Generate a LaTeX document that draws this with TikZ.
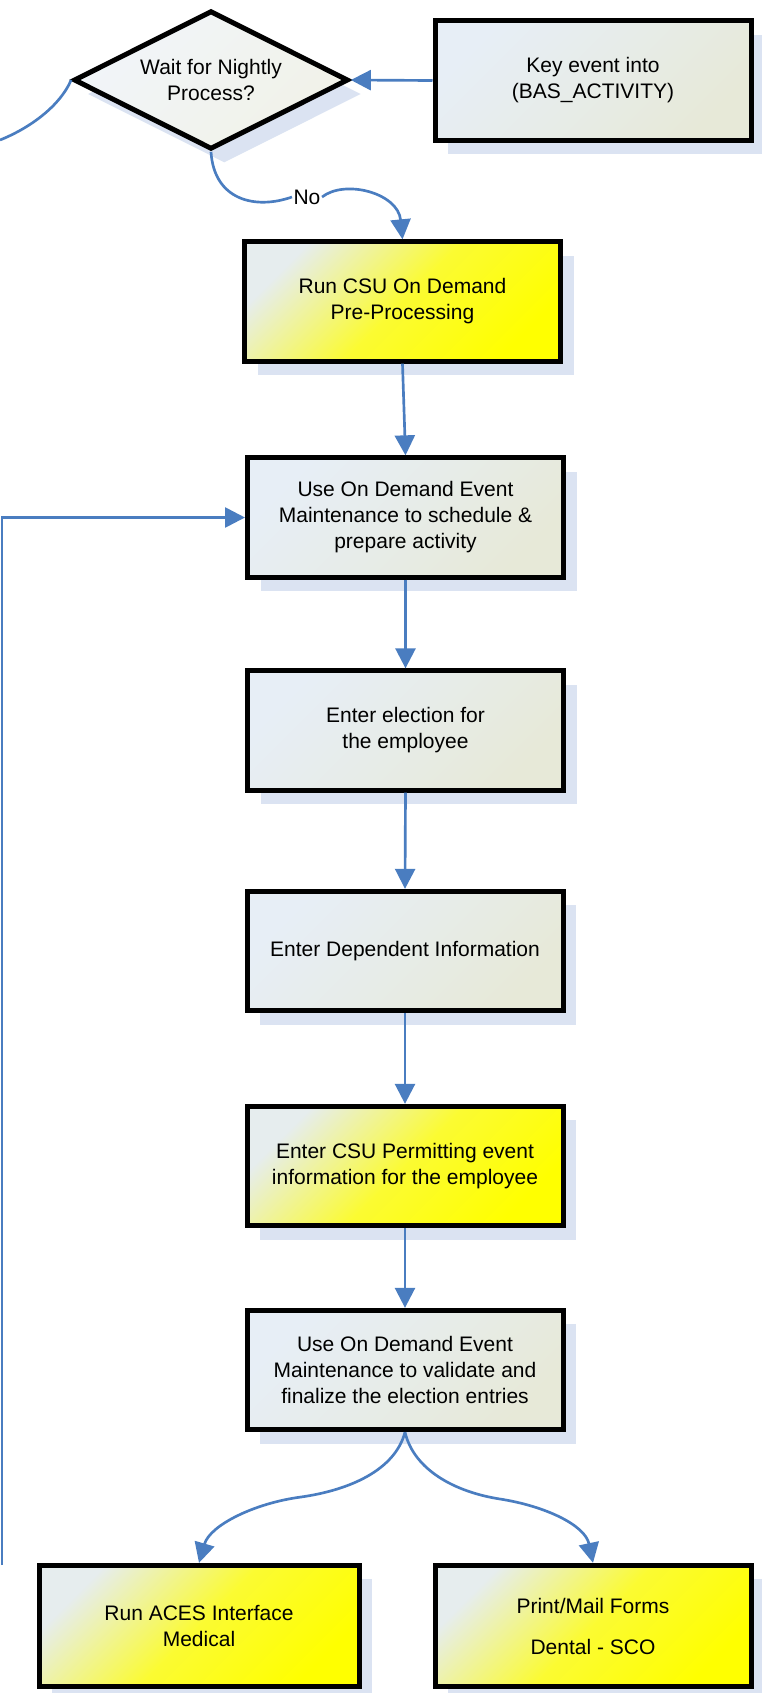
\documentclass[tikz,border=0pt]{standalone}
\usepackage{fontspec}
\setmainfont{Liberation Sans}
\usetikzlibrary{positioning, shapes.geometric, shadows, arrows.meta}
\definecolor{flowblue}{RGB}{74,125,192}
\definecolor{shadowblue}{RGB}{219,227,242}
\definecolor{greytl}{RGB}{231,238,246}
\definecolor{greybr}{RGB}{231,233,216}
\definecolor{greymid}{RGB}{231,236,232}
\definecolor{yelpale}{RGB}{230,237,238}
\definecolor{yelmid}{RGB}{251,251,50}
\newcommand{\boxfont}{\fontsize{15.75}{19.5}\selectfont}

\tikzset{
    stepbox/.style={rectangle, draw=black, line width=3.75pt, minimum width=237pt,
        minimum height=89.5pt, inner sep=0pt, align=center, font=\boxfont,
        top color=greytl, bottom color=greybr, middle color=greymid, shading angle=45,
        drop shadow={shadow xshift=10pt, shadow yshift=-10.5pt, fill=shadowblue, opacity=1}},
    yelbox/.style={stepbox, top color=yelpale, bottom color=yellow, middle color=yelmid, shading angle=45},
    decision/.style={diamond, aspect=2, draw=black, line width=3.75pt, minimum width=206pt,
        minimum height=104pt, inner sep=0pt, align=center, font=\boxfont,
        top color=greytl!60!white, bottom color=greybr!60!white, shading angle=45,
        drop shadow={shadow xshift=10pt, shadow yshift=-10.5pt, fill=shadowblue, opacity=1}},
    flow/.style={draw=flowblue, line width=2pt, -{Triangle[length=15pt,width=15pt]}},
    link/.style={draw=flowblue, line width=2pt}
}

\begin{document}
\begin{tikzpicture}[x=0.75pt, y=-0.75pt]
    \useasboundingbox (0,0) rectangle (761,1693);
    % top row
    \node[decision] (wait) at (211,80) {Wait for Nightly\\Process?};
    \node[stepbox] (key) at (593,80.5) {Key event into\\(BAS\_ACTIVITY)};
    \node[fill=white, inner sep=1pt, font=\boxfont] (no) at (307,197) {No};
    % main column
    \node[yelbox] (pre) at (402.5,301.5) {Run CSU On Demand\\Pre-Processing};
    \node[stepbox] (sched) at (405.5,517.5) {Use On Demand Event\\Maintenance to schedule \&\\prepare activity};
    \node[stepbox] (elect) at (405.5,730.5) {Enter election for\\the employee};
    \node[stepbox] (dep) at (405,951) {Enter Dependent Information};
    \node[yelbox] (permit) at (405,1166) {Enter CSU Permitting event\\information for the employee};
    \node[stepbox] (valid) at (405,1370) {Use On Demand Event\\Maintenance to validate and\\finalize the election entries};
    % bottom row
    \node[yelbox, minimum width=240pt, minimum height=91pt] (aces) at (199,1626) {Run ACES Interface\\Medical};
    \node[yelbox, minimum height=91pt] (mail) at (593,1626) {Print/Mail Forms\\[11.25pt]Dental - SCO};
    \coordinate (cut) at (0,140);
    \coordinate (back) at (2,1565);
    \coordinate (splitL) at (301,1497);
    \coordinate (splitR) at (500,1499);
    % connectors
    \draw[flow] (key.west) -- (wait.east);
    \draw[link] (wait.west) .. controls (60,106) and (30,128) .. (cut);
    \draw[link] (wait.south) .. controls (214,200) and (255,210) .. (no.west);
    \draw[flow] (no.east) .. controls (345,179) and (398,193) .. (pre.north);
    \draw[flow] (pre.south) -- (sched.north);
    \draw[flow] (sched.south) -- (elect.north);
    \draw[flow] (elect.south) -- (dep.north);
    \draw[flow] (dep.south) -- (permit.north);
    \draw[flow] (permit.south) -- (valid.north);
    \draw[flow] (back) |- (sched.west);
    \draw[flow] (valid.south) .. controls (395,1470) and (350,1490) .. (splitL)
        .. controls (255,1503) and (210,1525) .. (aces.north);
    \draw[flow] (valid.south) .. controls (414,1470) and (455,1492) .. (splitR)
        .. controls (545,1506) and (585,1525) .. (mail.north);
\end{tikzpicture}
\end{document}
